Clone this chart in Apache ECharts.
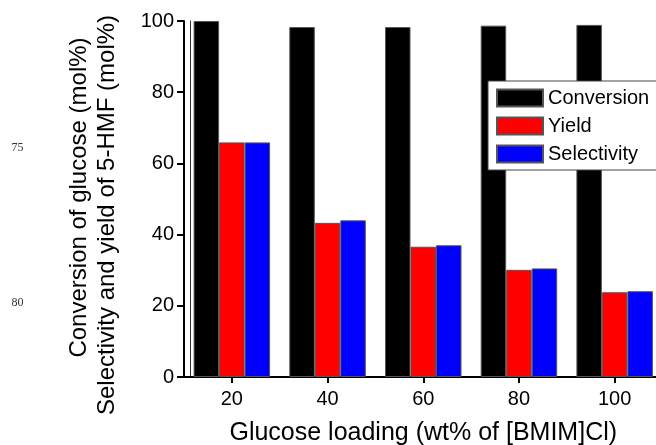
<!DOCTYPE html>
<html>
<head>
<meta charset="utf-8">
<script src="https://cdn.jsdelivr.net/npm/echarts@6/dist/echarts.min.js"></script>
<style>html,body{margin:0;padding:0;background:#fff}#c{width:656px;height:445px}</style>
</head>
<body>
<div id="c"></div>
<script>
var categories = ['20', '40', '60', '80', '100'];
var conversion = [100, 98.3, 98.3, 98.7, 98.9];
var yieldVals = [65.9, 43.3, 36.6, 30.1, 23.8];
var selectivity = [65.9, 44.0, 37.0, 30.5, 24.1];
var yTicks = [0, 20, 40, 60, 80, 100];
var xName = 'Glucose loading (wt% of [BMIM]Cl)';
var yName1 = 'Conversion of glucose (mol%)';
var yName2 = 'Selectivity and yield of 5-HMF (mol%)';
var strayLabels = ['75', '80'];

var FONT = '"Liberation Sans", Arial, sans-serif';
var chart = echarts.init(document.getElementById('c'), null, {renderer: 'canvas'});

function barSeries(name, data, color) {
  return {
    name: name, type: 'bar', data: data, barWidth: 25.5, barGap: '0%',
    xAxisIndex: 0, yAxisIndex: 0,
    itemStyle: {color: color, borderColor: '#555', borderWidth: 1},
    emphasis: {disabled: true}, animation: false
  };
}

chart.setOption({
  animation: false,
  backgroundColor: '#fff',
  grid: {left: 184, width: 478.5, top: 21, height: 356, containLabel: false, outerBoundsMode: 'none'},
  legend: {
    orient: 'vertical', left: 488, top: 81,
    padding: [7, 8, 6, 8], itemGap: 8, itemWidth: 46, itemHeight: 17,
    backgroundColor: '#fff', borderColor: '#444', borderWidth: 1, borderRadius: 0,
    icon: 'rect',
    textStyle: {fontFamily: FONT, fontSize: 20, color: '#000'},
    data: ['Conversion', 'Yield', 'Selectivity']
  },
  xAxis: [{
    type: 'category', data: categories, position: 'bottom',
    axisLine: {show: true, lineStyle: {color: '#000', width: 2}},
    axisTick: {show: true, alignWithLabel: true, length: 6, lineStyle: {color: '#000', width: 2}},
    axisLabel: {fontFamily: FONT, fontSize: 20, color: '#000', margin: 12},
    name: xName, nameLocation: 'middle', nameGap: 44,
    nameTextStyle: {fontFamily: FONT, fontSize: 25, color: '#000'},
    splitLine: {show: false}
  }, {
    type: 'category', data: categories, position: 'top',
    axisLine: {show: true, lineStyle: {color: '#000', width: 2}},
    axisTick: {show: false}, axisLabel: {show: false}, splitLine: {show: false}
  }],
  yAxis: [{
    type: 'value', min: 0, max: 100, interval: 20, position: 'left',
    axisLine: {show: true, onZero: false, lineStyle: {color: '#000', width: 2}},
    axisTick: {show: true, inside: false, length: 7, lineStyle: {color: '#000', width: 2}},
    axisLabel: {fontFamily: FONT, fontSize: 20, color: '#000', margin: 10,
      customValues: yTicks},
    splitLine: {show: false}
  }, {
    type: 'value', min: 0, max: 100, position: 'left', offset: -6,
    axisLine: {show: true, onZero: false, lineStyle: {color: '#333', width: 1}},
    axisTick: {show: false}, axisLabel: {show: false}, splitLine: {show: false}
  }],
  graphic: [
    {type: 'text', x: 79, y: 197.5, rotation: Math.PI / 2, silent: true,
      style: {text: yName1, font: '24px ' + FONT, fill: '#000', align: 'center', verticalAlign: 'middle'}},
    {type: 'text', x: 107, y: 215, rotation: Math.PI / 2, silent: true,
      style: {text: yName2, font: '24px ' + FONT, fill: '#000', align: 'center', verticalAlign: 'middle'}},
    {type: 'text', x: 17.5, y: 148, silent: true,
      style: {text: strayLabels[0], font: '12px "Liberation Serif", "Times New Roman", serif', fill: '#333', align: 'center', verticalAlign: 'middle'}},
    {type: 'text', x: 17.5, y: 302.5, silent: true,
      style: {text: strayLabels[1], font: '12px "Liberation Serif", "Times New Roman", serif', fill: '#333', align: 'center', verticalAlign: 'middle'}}
  ],
  series: [
    barSeries('Conversion', conversion, '#000'),
    barSeries('Yield', yieldVals, '#ff0000'),
    barSeries('Selectivity', selectivity, '#0000ff')
  ]
});
</script>
</body>
</html>
